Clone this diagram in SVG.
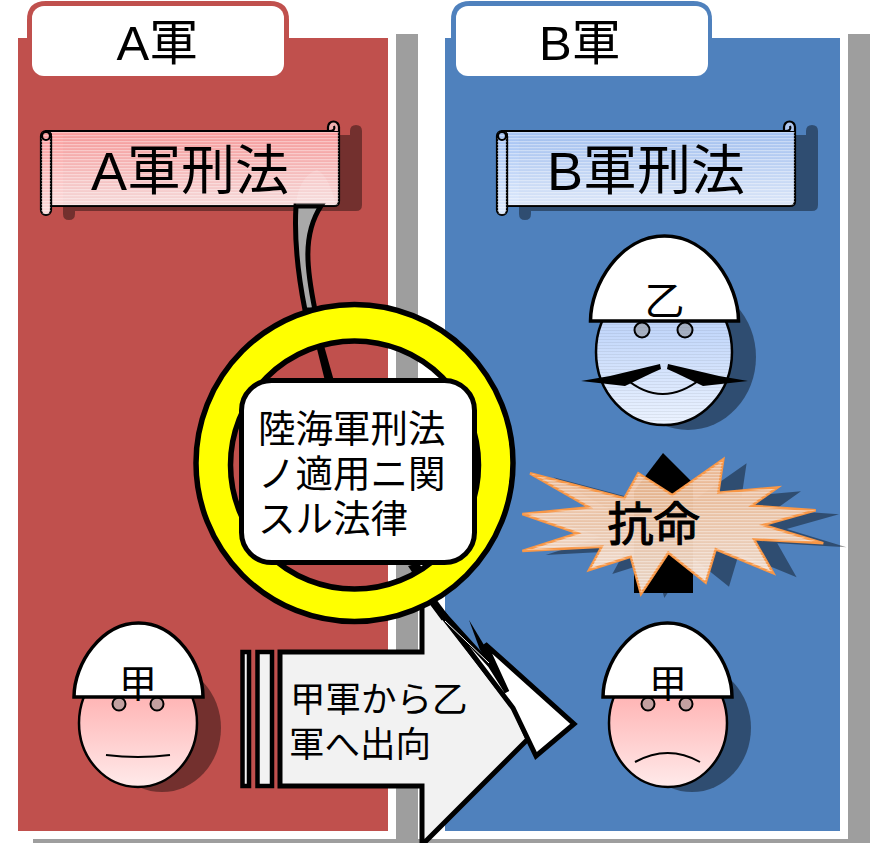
<svg xmlns="http://www.w3.org/2000/svg" width="873" height="843" viewBox="0 0 873 843">
<style>
text{font-family:"Liberation Sans","Noto Sans CJK JP",sans-serif;fill:#000}
.sh{fill:#000;fill-opacity:.4}
.helmet{fill:#fff;stroke:#000;stroke-width:3.5}
.mouth{fill:none;stroke:#000;stroke-width:2}
.eye{fill:#888;fill-opacity:.5;stroke:#000;stroke-width:2}
.bar{fill:#f2f2f2;stroke:#000;stroke-width:4.5}
.scr{stroke:#000;stroke-width:2.2;stroke-linejoin:round}
.nos{stroke:none}
</style>
<defs>
<linearGradient id="gr" x1="0" y1="0" x2="0" y2="1"><stop offset="0" stop-color="#ff9f9f" stop-opacity=".93"/><stop offset="1" stop-color="#ffe6e6" stop-opacity=".93"/></linearGradient>
<linearGradient id="gb" x1="0" y1="0" x2="0" y2="1"><stop offset="0" stop-color="#a6c4f5" stop-opacity=".95"/><stop offset="1" stop-color="#e4eeff" stop-opacity=".95"/></linearGradient>
<linearGradient id="gf" x1="0" y1="0" x2="0" y2="1"><stop offset="0" stop-color="#ff9f9f"/><stop offset="1" stop-color="#ffeaea"/></linearGradient>
<linearGradient id="gh" x1="0" y1="0" x2="0" y2="1"><stop offset="0" stop-color="#acc8f8"/><stop offset="1" stop-color="#ecf3ff"/></linearGradient>
<linearGradient id="go" x1="0" y1="0" x2="0" y2="1"><stop offset="0" stop-color="#f7b888" stop-opacity=".92"/><stop offset="1" stop-color="#fde9da" stop-opacity=".92"/></linearGradient>
<pattern id="st" width="4" height="3" patternUnits="userSpaceOnUse"><rect width="4" height="1.2" fill="#fff" fill-opacity=".38"/></pattern>
<pattern id="std" width="4" height="3" patternUnits="userSpaceOnUse"><rect width="4" height="1" fill="#000" fill-opacity=".06"/></pattern>
<path id="scrollBody" d="M46 131H339V201Q339 206 334 206H51V136Q51 131 46 131Z"/>
<rect id="scrollRoll" x="41" y="131" width="10" height="84" rx="5"/>
<path id="scrollShadow" d="M63 135H350V131Q350 125 356 125T362 131V205Q362 211 356 211H75V214Q75 220 69 220T63 214Z"/>
<path id="helmetShape" d="M0 74C0 40 28 0 64.500 0S129 40 129 74Z"/>
<polygon id="burst" points="530,473.300 624.300,498.300 638.300,473.300 672.300,495 723.300,459.300 718.300,492.700 777.700,487.300 751.700,505.700 815.700,510.300 763.300,525 823.300,543.300 754,539.300 773.300,573.300 715.700,549.300 705.700,582.700 668.300,552.700 641,594 630.700,556.700 589,570 601.700,546.700 522.300,551 577.700,533.300 522.300,514 589.300,507.300"/>
</defs>

<rect width="873" height="843" fill="#fff"/>

<g id="army-a">
<path d="M396 34H418V843H33V839H396Z" fill="#9e9e9e"/>
<rect x="18" y="38" width="370" height="793" fill="#c0504d"/>
<path d="M27 38V20Q27 1 46 1H270Q289 1 289 20V38Z" fill="#c0504d"/>
<rect x="32" y="6" width="252" height="70" rx="12" fill="#fff"/>
<text x="116.500" y="60" font-size="49">A軍</text>
</g>
<g id="army-b">
<path d="M848 34H870V843H418V839H848Z" fill="#9e9e9e"/>
<rect x="445" y="38" width="395" height="793" fill="#4f81bd"/>
<path d="M451 38V20Q451 1 470 1H693Q712 1 712 20V38Z" fill="#4f81bd"/>
<rect x="456" y="6" width="252" height="70" rx="12" fill="#fff"/>
<text x="539" y="60" font-size="49">B軍</text>
</g>

<g id="scroll-a">
<use href="#scrollShadow" class="sh"/>
<use href="#scrollBody" fill="url(#gr)" class="scr"/>
<use href="#scrollBody" fill="url(#st)" class="nos"/>
<use href="#scrollRoll" fill="url(#gr)" class="scr"/>
<use href="#scrollRoll" fill="url(#st)" class="nos"/>
<circle cx="46" cy="136" r="4" fill="none" class="scr"/>
<path d="M328 131V127A5.500 5.500 0 1 1 339 127V131" fill="#f0b0b0" class="scr"/>
<path d="M329 131Q336 131 334 126" fill="none" class="scr"/>
<text x="91" y="190" font-size="54">A軍刑法</text>
</g>
<g id="scroll-b">
<use href="#scrollShadow" x="456" class="sh"/>
<use href="#scrollBody" x="456" fill="url(#gb)" class="scr"/>
<use href="#scrollBody" x="456" fill="url(#st)" class="nos"/>
<use href="#scrollRoll" x="456" fill="url(#gb)" class="scr"/>
<use href="#scrollRoll" x="456" fill="url(#st)" class="nos"/>
<circle cx="502" cy="136" r="4" fill="none" class="scr"/>
<path d="M784 131V127A5.500 5.500 0 1 1 795 127V131" fill="#b0c8f0" class="scr"/>
<path d="M785 131Q792 131 790 126" fill="none" class="scr"/>
<text x="547" y="190" font-size="54">B軍刑法</text>
</g>

<g id="connectors">
<path d="M422 652H280V786H422V845L528 739L514 708L430 600L422 593Z" fill="#f2f2f2" stroke="#000" stroke-width="5"/>
<rect x="242.500" y="652" width="6.500" height="134" class="bar"/>
<rect x="257.500" y="652" width="14.500" height="134" class="bar"/>
<path d="M296 206C294 240 299 280 305 310L315 310C307 270 302 235 321 206Z" fill="#a9a9a9" stroke="#000" stroke-width="5"/>
<path d="M317 170C303 175 297 190 296 205H336C332 190 327 175 317 170Z" fill="#fff" fill-opacity=".15"/>
<polygon points="316,345 325,381 334,381 323,342"/>
<polygon points="408,566 419,563 432,585 424,590"/>
<path d="M428 595L445 618" stroke="#000" stroke-width="8" fill="none"/>
<path d="M436 606L513 708L536 756L574 724L485 644L507 692L490 665L442 612Z" fill="#fff" stroke="#000" stroke-width="5"/>
<polygon points="469,620 484,645 507,692 480,650"/>
<path d="M445 621L489 663" stroke="#fff" stroke-width="1" fill="none"/>
</g>

<g id="ring">
<path fill-rule="evenodd" d="M196 463a158.500 158.500 0 1 0 317 0a158.500 158.500 0 1 0-317 0ZM230.500 465a124 124 0 1 0 248 0a124 124 0 1 0-248 0Z" fill="#ff0" stroke="#000" stroke-width="5.500"/>
</g>
<g id="law-box">
<rect x="241.500" y="380.500" width="233" height="182" rx="30" fill="#fff" stroke="#000" stroke-width="5"/>
<text font-size="37.500"><tspan x="258" y="442">陸海軍刑法</tspan><tspan x="258" y="487">ノ適用ニ関</tspan><tspan x="258" y="532">スル法律</tspan></text>
</g>

<g id="person-otsu">
<ellipse cx="688" cy="357" rx="68" ry="73" class="sh"/>
<ellipse cx="664" cy="352" rx="68" ry="73" fill="url(#gh)" stroke="#000" stroke-width="2.500"/>
<ellipse cx="664" cy="352" rx="68" ry="73" fill="url(#std)"/>
<circle cx="642" cy="330" r="7.500" class="eye"/>
<circle cx="685" cy="330" r="7.500" class="eye"/>
<path d="M625 378Q662 410 702 378" class="mouth"/>
<path d="M581 381L610 376L660 364L661 369L652 373L625 386Z"/>
<path d="M748 381L719 376L668 364L667 369L676 373L703 386Z"/>
<path d="M590.500 321C590.500 285 620 236 664.500 236S738.500 285 738.500 321Z" class="helmet"/>
<text x="644.500" y="315" font-size="40">乙</text>
</g>

<g id="person-ko-a">
<ellipse cx="162" cy="728" rx="59" ry="64" class="sh"/>
<ellipse cx="138" cy="723" rx="59" ry="64" fill="url(#gf)" stroke="#000" stroke-width="2.500"/>
<circle cx="119" cy="704" r="6.500" class="eye"/>
<circle cx="157" cy="704" r="6.500" class="eye"/>
<path d="M106 755Q138 759 170 755" class="mouth"/>
<use href="#helmetShape" x="74" y="623" class="helmet"/>
<text x="119" y="697" font-size="38">甲</text>
</g>

<g id="person-ko-b">
<ellipse cx="692" cy="728" rx="59" ry="64" class="sh"/>
<ellipse cx="668" cy="723" rx="59" ry="64" fill="url(#gf)" stroke="#000" stroke-width="2.500"/>
<circle cx="648" cy="704" r="6.500" class="eye"/>
<circle cx="686" cy="704" r="6.500" class="eye"/>
<path d="M635 762Q668 744 700 762" class="mouth"/>
<use href="#helmetShape" x="603" y="623" class="helmet"/>
<text x="649" y="697" font-size="38">甲</text>
</g>

<g id="defiance">
<use href="#burst" x="23.300" y="4" class="sh"/>
<path d="M663 453L693 483V593H634V491Z"/>
<use href="#burst" fill="url(#go)" stroke="#f79646" stroke-width="2.500"/>
<use href="#burst" fill="url(#st)"/>
<text x="607.500" y="540" font-size="46" stroke="#000" stroke-width="1.100">抗命</text>
</g>

<g id="transfer-label">
<text font-size="35.500"><tspan x="290" y="712">甲軍から乙</tspan><tspan x="289" y="757">軍へ出向</tspan></text>
</g>
</svg>
